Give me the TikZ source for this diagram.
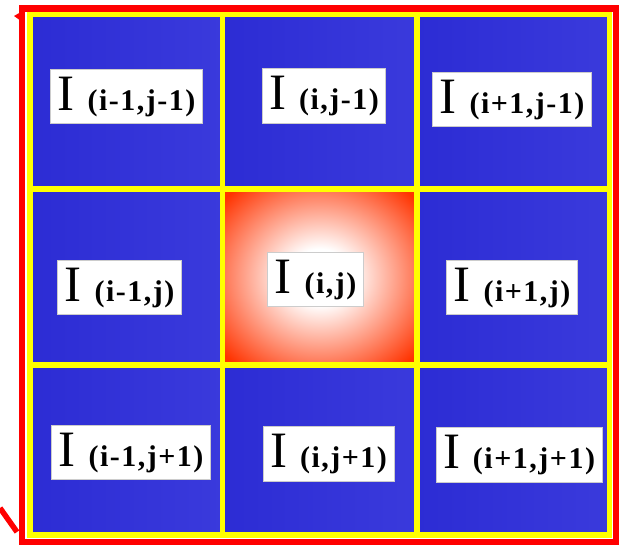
\documentclass[tikz,border=0pt]{standalone}
\usepackage{fontspec}
\setmainfont{Liberation Serif}
\definecolor{gridblue}{RGB}{44,44,212}
\definecolor{gridblueright}{RGB}{58,58,220}
\definecolor{hotred}{RGB}{255,51,0}
\definecolor{framered}{RGB}{255,0,0}
\definecolor{gridyellow}{RGB}{255,255,0}
\pgfdeclareradialshading{glow}{\pgfpoint{0bp}{0bp}}{color(0bp)=(white); color(8bp)=(white); color(33bp)=(hotred); color(50bp)=(hotred)}
\newcommand{\pix}[1]{{\fontsize{51}{51}\selectfont I}\hspace{13pt}{\fontsize{30}{30}\selectfont\bfseries\addfontfeature{LetterSpace=5}#1}}
\begin{document}
\begin{tikzpicture}[
  x=1pt,y=-1pt,
  cellbg/.style={left color=gridblue,right color=gridblueright},
  gridpen/.style={draw=gridyellow,line width=5.5pt},
  framepen/.style={draw=framered,line width=6.5pt},
  lbl/.style={fill=white,draw=gray!40,line width=0.8pt,inner xsep=7pt,inner ysep=7.5pt},
]
  \useasboundingbox (0,0) rectangle (619,545);
  % cells
  \fill[cellbg] (30,14.5)  rectangle (222.5,189);
  \fill[cellbg] (222.5,14.5) rectangle (417,189);
  \fill[cellbg] (417,14.5) rectangle (609.5,189);
  \fill[cellbg] (30,189)   rectangle (222.5,365);
  \fill[shading=glow] (222.5,189) rectangle (417,365);
  \fill[cellbg] (417,189)  rectangle (609.5,365);
  \fill[cellbg] (30,365)   rectangle (222.5,535);
  \fill[cellbg] (222.5,365) rectangle (417,535);
  \fill[cellbg] (417,365)  rectangle (609.5,535);
  % grid
  \draw[gridpen] (30,14.5) rectangle (609.5,535);
  \draw[gridpen] (222.5,14.5) -- (222.5,535);
  \draw[gridpen] (417,14.5) -- (417,535);
  \draw[gridpen] (30,189) -- (609.5,189);
  \draw[gridpen] (30,365) -- (609.5,365);
  % frame
  \draw[framepen] (22,8.5) rectangle (616.5,542);
  \draw[framered,line width=5.5pt] (0,508) -- (17,532);
  \fill[framered] (14,16) -- (21,12) -- (21,21) -- cycle;
  % labels
  \node[lbl] (nw) at (126.5,96.5) {\pix{(i-1,j-1)}};
  \node[lbl] (n)  at (324,96)     {\pix{(i,j-1)}};
  \node[lbl] (ne) at (512,99.5)   {\pix{(i+1,j-1)}};
  \node[lbl] (w)  at (119.5,287.5) {\pix{(i-1,j)}};
  \node[lbl] (c)  at (315.5,279.5) {\pix{(i,j)}};
  \node[lbl] (e)  at (512,287.5)  {\pix{(i+1,j)}};
  \node[lbl] (sw) at (131,452.5)  {\pix{(i-1,j+1)}};
  \node[lbl] (s)  at (328.5,454)  {\pix{(i,j+1)}};
  \node[lbl] (se) at (519,455)    {\pix{(i+1,j+1)}};
\end{tikzpicture}
\end{document}
